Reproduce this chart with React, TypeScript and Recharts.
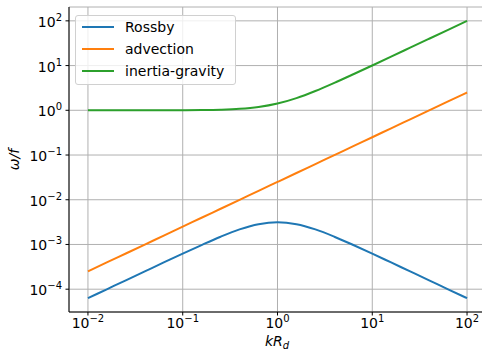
import React from 'react';
import { LineChart, Line, XAxis, YAxis, CartesianGrid, Legend, Label } from 'recharts';

const kValues = [0.01, 0.0158, 0.0251, 0.0398, 0.0631, 0.1, 0.158, 0.251, 0.398, 0.631, 1, 1.585, 2.51, 3.98, 6.31, 10, 15.8, 25.1, 39.8, 63.1, 100];
const rossby = [6.3e-5, 9.95e-5, 1.58e-4, 2.5e-4, 3.96e-4, 6.24e-4, 9.71e-4, 1.49e-3, 2.17e-3, 2.84e-3, 3.15e-3, 2.84e-3, 2.17e-3, 1.49e-3, 9.71e-4, 6.24e-4, 3.96e-4, 2.5e-4, 1.58e-4, 9.95e-5, 6.3e-5];
const advection = [2.5e-4, 3.96e-4, 6.28e-4, 9.95e-4, 1.58e-3, 2.5e-3, 3.96e-3, 6.28e-3, 9.95e-3, 1.58e-2, 2.5e-2, 3.96e-2, 6.28e-2, 0.0995, 0.158, 0.25, 0.396, 0.628, 0.995, 1.58, 2.5];
const inertiaGravity = [1.0, 1.0001, 1.0003, 1.0008, 1.002, 1.005, 1.012, 1.031, 1.076, 1.183, 1.414, 1.873, 2.7, 4.1, 6.39, 10.05, 15.83, 25.12, 39.81, 63.1, 100];

const seriesNames = ['Rossby', 'advection', 'inertia-gravity'];
const seriesKeys = ['rossby', 'advection', 'inertia'];
const seriesColors = ['#1f77b4', '#ff7f0e', '#2ca02c'];

const xMajorTicks = [0.01, 0.1, 1, 10, 100];
const yMajorTicks = [1e-4, 1e-3, 1e-2, 1e-1, 1, 10, 100];
const xMinorTicks = [0.007, 0.008, 0.009, 0.02, 0.03, 0.04, 0.05, 0.06, 0.07, 0.08, 0.09, 0.2, 0.3, 0.4, 0.5, 0.6, 0.7, 0.8, 0.9, 2, 3, 4, 5, 6, 7, 8, 9, 20, 30, 40, 50, 60, 70, 80, 90];
const yMinorTicks = [4e-5, 5e-5, 6e-5, 7e-5, 8e-5, 9e-5, 2e-4, 3e-4, 4e-4, 5e-4, 6e-4, 7e-4, 8e-4, 9e-4, 2e-3, 3e-3, 4e-3, 5e-3, 6e-3, 7e-3, 8e-3, 9e-3, 0.02, 0.03, 0.04, 0.05, 0.06, 0.07, 0.08, 0.09, 0.2, 0.3, 0.4, 0.5, 0.6, 0.7, 0.8, 0.9, 2, 3, 4, 5, 6, 7, 8, 9, 20, 30, 40, 50, 60, 70, 80, 90, 200];

const X_DOMAIN: [number, number] = [0.00631, 158.5];
const Y_DOMAIN: [number, number] = [3.09e-5, 204];

const data = kValues.map((k, i) => ({ k, rossby: rossby[i], advection: advection[i], inertia: inertiaGravity[i] }));

const FONT = 'DejaVu Sans, sans-serif';

const expText = (v: number) => {
  const e = Math.round(Math.log10(v));
  return e < 0 ? '\u2212' + String(-e) : String(e);
};

const XTick = (props: any) => {
  const { x, y, payload } = props;
  return (
    <text x={x} y={y + 10} textAnchor="middle" fontFamily={FONT} fontSize={14} fill="#000">
      <tspan>10</tspan>
      <tspan dy={-6} fontSize={10}>{expText(payload.value)}</tspan>
    </text>
  );
};

const YTick = (props: any) => {
  const { x, y, payload } = props;
  return (
    <text x={x - 1.5} y={y + 6} textAnchor="end" fontFamily={FONT} fontSize={14} fill="#000">
      <tspan>10</tspan>
      <tspan dy={-6} fontSize={10}>{expText(payload.value)}</tspan>
    </text>
  );
};

const EmptyTick = () => <g />;

const LegendBox = () => (
  <div
    style={{
      border: '1px solid #d0d0d0',
      borderRadius: 3,
      background: 'rgba(255,255,255,0.8)',
      paddingBottom: 2,
      width: 159,
      boxSizing: 'content-box',
      fontFamily: FONT,
      fontSize: 14,
      color: '#000',
    }}
  >
    {seriesNames.map((name, i) => (
      <div key={name} style={{ height: 22, display: 'flex', alignItems: 'center' }}>
        <div style={{ marginLeft: 6, width: 32, height: 2, background: seriesColors[i] }} />
        <span style={{ marginLeft: 11, lineHeight: '22px' }}>{name}</span>
      </div>
    ))}
  </div>
);

export default function App() {
  return (
    <div style={{ position: 'absolute', left: 0, top: 0, background: '#fff' }}>
      <LineChart width={486} height={350} data={data} margin={{ top: 7, right: 0, bottom: 0, left: 0 }}>
        <XAxis
          xAxisId="mx"
          dataKey="k"
          type="number"
          scale="log"
          domain={X_DOMAIN}
          allowDataOverflow
          ticks={xMinorTicks}
          interval={0}
          height={0}
          axisLine={false}
          tickSize={2}
          tickLine={{ stroke: '#000', strokeWidth: 0.8 }}
          tick={<EmptyTick />}
        />
        <XAxis
          dataKey="k"
          type="number"
          scale="log"
          domain={X_DOMAIN}
          allowDataOverflow
          ticks={xMajorTicks}
          interval={0}
          height={38}
          axisLine={{ stroke: '#000', strokeWidth: 1 }}
          tickSize={3.5}
          tickLine={{ stroke: '#000', strokeWidth: 1 }}
          tick={<XTick />}
        >
          <Label
            content={() => (
              <text x={277} y={346} textAnchor="middle" fontFamily={FONT} fontSize={14} fill="#000">
                <tspan fontStyle="italic">kR</tspan>
                <tspan dy={3} fontSize={10} fontStyle="italic">d</tspan>
              </text>
            )}
          />
        </XAxis>
        <XAxis
          xAxisId="top"
          orientation="top"
          dataKey="k"
          type="number"
          scale="log"
          domain={X_DOMAIN}
          allowDataOverflow
          height={0}
          tick={false}
          tickLine={false}
          axisLine={{ stroke: '#000', strokeWidth: 1 }}
        />
        <YAxis
          yAxisId="my"
          type="number"
          scale="log"
          domain={Y_DOMAIN}
          allowDataOverflow
          ticks={yMinorTicks}
          interval={0}
          width={0}
          axisLine={false}
          tickSize={2}
          tickLine={{ stroke: '#000', strokeWidth: 0.8 }}
          tick={<EmptyTick />}
        />
        <YAxis
          type="number"
          scale="log"
          domain={Y_DOMAIN}
          allowDataOverflow
          ticks={yMajorTicks}
          interval={0}
          width={69}
          axisLine={{ stroke: '#000', strokeWidth: 1 }}
          tickSize={3.5}
          tickLine={{ stroke: '#000', strokeWidth: 1 }}
          tick={<YTick />}
        >
          <Label
            content={() => (
              <text
                x={19}
                y={159.5}
                transform="rotate(-90, 19, 159.5)"
                textAnchor="middle"
                fontFamily={FONT}
                fontSize={14}
                fontStyle="italic"
                fill="#000"
              >
                ω/f
              </text>
            )}
          />
        </YAxis>
        <CartesianGrid stroke="#b0b0b0" strokeWidth={1} />
        {seriesKeys.map((key, i) => (
          <Line
            key={key}
            dataKey={key}
            name={seriesNames[i]}
            stroke={seriesColors[i]}
            strokeWidth={2}
            dot={false}
            type="monotone"
            isAnimationActive={false}
          />
        ))}
        <Legend
          layout="vertical"
          verticalAlign="middle"
          align="center"
          content={<LegendBox />}
          wrapperStyle={{ position: 'absolute', left: 75, top: 15, width: 'auto', height: 'auto' }}
        />
      </LineChart>
    </div>
  );
}
